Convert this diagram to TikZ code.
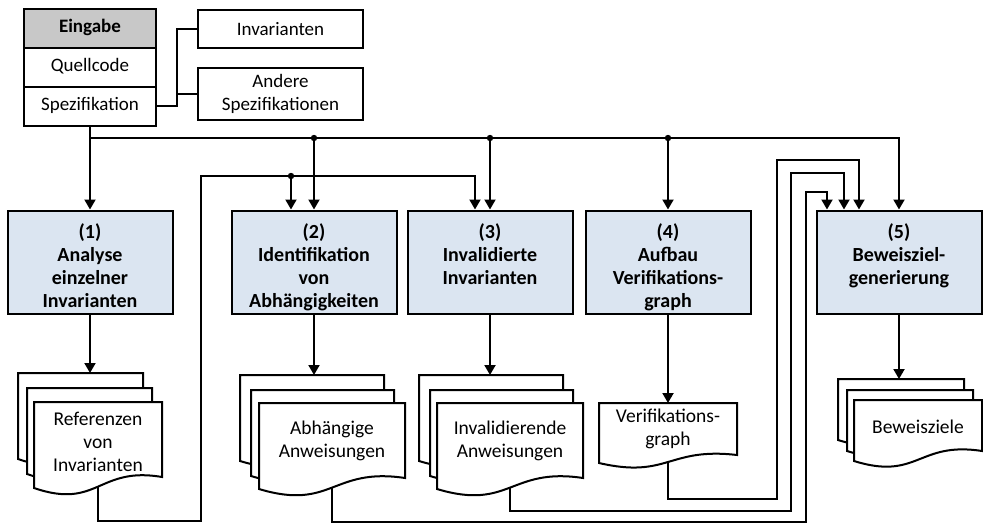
\documentclass[tikz,border=0pt]{standalone}
\usepackage{fontspec}
\setmainfont{Carlito}
\usetikzlibrary{arrows.meta,calc}

\definecolor{procblue}{RGB}{219,229,241}
\definecolor{headgray}{RGB}{200,200,200}

\tikzset{
  lw/.style={line width=2pt},
  procbox/.style={draw, lw, fill=procblue, minimum width=165pt, minimum height=103pt, inner sep=0pt},
  boxtext/.style={anchor=north, inner sep=0pt, align=center, font=\fontsize{20}{23}\selectfont\bfseries},
  doctext/.style={inner sep=0pt, align=center, font=\fontsize{19.5}{23}\selectfont},
  inrow/.style={draw, lw, fill=white, minimum width=132pt, minimum height=39pt, inner sep=0pt,
                text height=13pt, text depth=4pt, font=\fontsize{19}{23}\selectfont},
  sidebox/.style={draw, lw, fill=white, minimum width=165pt, inner sep=0pt, align=center,
                  font=\fontsize{19}{23}\selectfont},
  conn/.style={lw, line join=miter},
  arr/.style={conn, -{Triangle[length=10pt,width=11pt]}},
  % document sheet: width, left edge height, right edge height; origin = top-left corner
  pics/docsheet/.style n args={3}{code={
     \coordinate (-top) at (0,0);
     \coordinate (-bot) at ({0.5*#1},{#3+0.875*(#2-#3)});
     \draw[lw, fill=white, line join=miter] (0,0) -- (#1,0) -- (#1,#3)
        .. controls ({0.5*#1},{#3-(#2-#3)}) and ({0.5*#1},{#2+2*(#2-#3)}) .. (0,#2) -- cycle;
  }},
}

\begin{document}
\begin{tikzpicture}[x=1pt, y=-1pt]
\path[use as bounding box, fill=white] (0,0) rectangle (983,524);

% input block
\node[inrow, fill=headgray, font=\fontsize{19}{23}\selectfont\bfseries] (ein) at (90,28.5) {Eingabe};
\node[inrow] (qc) at (90,67.5) {Quellcode};
\node[inrow] (spez) at (90,106.5) {Spezifikation};
\node[sidebox, minimum height=38pt] (inv) at (280.5,29) {Invarianten};
\node[sidebox, minimum height=52pt] (andere) at (280.5,94) {Andere\\Spezifikationen};
\draw[conn] (spez.east) -- (177,106.5) coordinate (fork) |- (inv.west);
\draw[conn] (fork |- andere.west) -- (andere.west);

% process steps
\node[procbox] (b1) at (90,262) {};
\node[procbox] (b2) at (314,262) {};
\node[procbox] (b3) at (490,262) {};
\node[procbox] (b4) at (668,262) {};
\node[procbox] (b5) at (899,262) {};
\node[boxtext] (b1t) at ($(b1.north)+(0,14)$) {(1)\\Analyse\\einzelner\\Invarianten};
\node[boxtext] (b2t) at ($(b2.north)+(0,14)$) {(2)\\Identifikation\\von\\Abhängigkeiten};
\node[boxtext] (b3t) at ($(b3.north)+(0,14)$) {(3)\\Invalidierte\\Invarianten};
\node[boxtext] (b4t) at ($(b4.north)+(0,14)$) {(4)\\Aufbau\\Verifikations-\\graph};
\node[boxtext] (b5t) at ($(b5.north)+(0,14)$) {(5)\\Beweisziel-\\generierung};

% result documents
\pic (d1b) at (18,373) {docsheet={125}{86}{75}};
\pic (d1m) at (27,388) {docsheet={125}{86}{75}};
\pic (d1f) at (34,402) {docsheet={128}{86}{75}};
\pic (d2b) at (240,375) {docsheet={144}{86}{75}};
\pic (d2m) at (251,390) {docsheet={143}{86}{75}};
\pic (d2f) at (259,403) {docsheet={146}{86}{75}};
\pic (d3b) at (419,375) {docsheet={144}{86}{75}};
\pic (d3m) at (430,390) {docsheet={143}{86}{75}};
\pic (d3f) at (437,403) {docsheet={146}{86}{75}};
\pic (d4) at (599,403) {docsheet={138}{60}{52}};
\pic (d5b) at (838,379) {docsheet={126}{61}{51}};
\pic (d5m) at (847,390) {docsheet={126}{61}{51}};
\pic (d5f) at (854,400) {docsheet={128}{61}{51}};
\node[doctext] (d1t) at (98,442) {Referenzen\\von\\Invarianten};
\node[doctext] (d2t) at (332,441) {Abhängige\\Anweisungen};
\node[doctext] (d3t) at (510,441) {Invalidierende\\Anweisungen};
\node[doctext] (d4t) at (668,429) {Verifikations-\\graph};
\node[doctext] (d5t) at (918,427) {Beweisziele};

% input distribution bus
\coordinate (bus) at (90,138);
\draw[arr] (spez.south) -- (bus) -| (b5.north);
\draw[arr] (bus) -- (b1.north);
\foreach \b in {b2,b3,b4}{
  \draw[arr] (\b.north |- bus) -- (\b.north);
  \fill (\b.north |- bus) circle (3.2pt);
}

% step outputs into documents
\draw[arr] (b1.south) -- (b1.south |- d1b-top);
\draw[arr] (b2.south) -- (b2.south |- d2b-top);
\draw[arr] (b3.south) -- (b3.south |- d3b-top);
\draw[arr] (b4.south) -- (b4.south |- d4-top);
\draw[arr] (b5.south) -- (b5.south |- d5b-top);

% feedback of documents into later steps
\coordinate (j5) at (291,176);
\draw[arr] (d1f-bot) |- (201,521) -- (201,176) -| ([xshift=-15pt]b3.north);
\draw[arr] (j5) -- (j5 |- b2.north);
\fill (j5) circle (3.2pt);
\draw[arr] (d2f-bot) |- (806,522) -- (806,192) -| ([xshift=-72pt]b5.north);
\draw[arr] (d3f-bot) |- (791,511) -- (791,173) -| ([xshift=-55pt]b5.north);
\draw[arr] (d4-bot) |- (777,499) -- (777,160) -| ([xshift=-40pt]b5.north);
\end{tikzpicture}
\end{document}
